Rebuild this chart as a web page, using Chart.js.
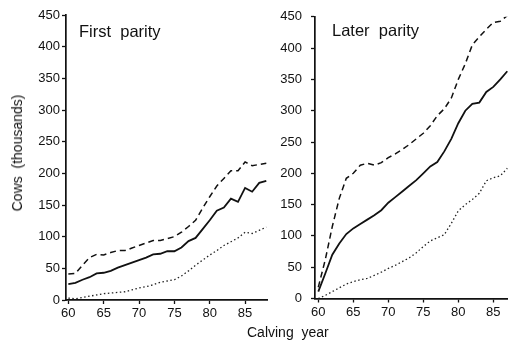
<!DOCTYPE html>
<html>
<head>
<meta charset="utf-8">
<script src="https://cdn.jsdelivr.net/npm/chart.js@4"></script>
<style>
  html, body { margin: 0; padding: 0; background: #fff; }
  body { width: 508px; height: 341px; position: relative; overflow: hidden; font-family: "Liberation Sans", Arial, sans-serif; color: #111; }
  .wrap { position: absolute; top: 0; }
  .txt { position: absolute; white-space: pre; color: #111; }
</style>
</head>
<body>
<div class="wrap" style="left:0;width:270px;height:341px;"><canvas id="c1" width="270" height="341"></canvas></div>
<div class="wrap" style="left:270px;width:238px;height:341px;"><canvas id="c2" width="238" height="341"></canvas></div>
<div class="txt" style="left:79px;top:22px;font-size:16.5px;">First  parity</div>
<div class="txt" style="left:332px;top:21px;font-size:16.5px;">Later  parity</div>
<div class="txt" style="left:247px;top:324px;font-size:14px;">Calving  year</div>
<div class="txt" style="left:17px;top:153px;font-size:14px;transform:translate(-50%,-50%) rotate(-90deg);">Cows  (thousands)</div>
<script>
// ---- data (thousands of cows) ----
const firstYears = [60,61,62,63,64,65,66,67,68,69,70,71,72,73,74,75,76,77,78,79,80,81,82,83,84,85,86,87,88];
const firstUpper = [41,42,55,67,72,71,75,78,78,82,86,90,94,94,97,100,107,116,126,145,163,180,192,204,204,218,212,214,216];
const firstMid   = [25,27,32,36,42,43,46,51,55,59,63,67,72,73,77,77,83,93,98,112,126,141,146,160,155,177,171,185,188];
const firstLower = [3,2,4,6,8,10,11,12,13,16,19,21,24,28,30,32,38,46,55,63,71,78,86,92,98,107,105,110,115];

const laterYears = [60,61,62,63,64,65,66,67,68,69,70,71,72,73,74,75,76,77,78,79,80,81,82,83,84,85,86,87];
const laterUpper = [18,62,115,160,192,200,213,216,213,217,225,231,238,246,255,264,276,292,303,320,350,375,405,418,430,441,443,452];
const laterMid   = [11,40,70,88,103,112,119,126,133,141,153,162,171,180,189,200,211,218,235,255,280,300,311,313,330,338,350,363];
const laterLower = [0,5,11,17,23,27,30,32,37,42,48,53,59,65,73,83,92,97,102,120,140,150,158,168,188,193,196,208];

const xTickValues = [60,65,70,75,80,85];
const yTickValues = [0,50,100,150,200,250,300,350,400,450];

function pts(xs, ys) { return xs.map((x, i) => ({ x: x, y: ys[i] })); }

function makeChart(id, years, upper, mid, lower, cfg) {
  const ink = '#111';
  return new Chart(document.getElementById(id), {
    type: 'line',
    data: {
      datasets: [
        { data: pts(years, upper), borderColor: ink, borderWidth: 1.5, borderDash: [6, 4], pointRadius: 0, tension: 0 },
        { data: pts(years, mid), borderColor: ink, borderWidth: 1.8, pointRadius: 0, tension: 0 },
        { data: pts(years, lower), borderColor: '#222', borderWidth: 1.3, borderDash: [1.5, 2.5], pointRadius: 0, tension: 0 }
      ]
    },
    options: {
      responsive: false,
      animation: false,
      maintainAspectRatio: false,
      layout: { padding: { left: 0, right: cfg.padRight, top: cfg.padTop, bottom: cfg.padBottom } },
      plugins: { legend: { display: false }, tooltip: { enabled: false } },
      scales: {
        x: {
          type: 'linear',
          min: cfg.xmin, max: cfg.xmax,
          afterBuildTicks: s => { s.ticks = xTickValues.map(v => ({ value: v })); },
          afterFit: s => { s.height = 30; },
          grid: { drawOnChartArea: false, drawTicks: true, tickLength: 4, tickColor: ink, tickWidth: 1.3 },
          border: { display: true, color: ink, width: 1.7 },
          ticks: { color: ink, font: { family: '"Liberation Sans", Arial, sans-serif', size: 13 }, padding: 2, maxRotation: 0, autoSkip: false }
        },
        y: {
          type: 'linear',
          min: 0, max: 450,
          afterBuildTicks: s => { s.ticks = yTickValues.map(v => ({ value: v })); },
          afterFit: s => { s.width = cfg.yWidth; },
          grid: { drawOnChartArea: false, drawTicks: true, tickLength: 4, tickColor: ink, tickWidth: 1.3 },
          border: { display: true, color: ink, width: 1.7 },
          ticks: { color: ink, font: { family: '"Liberation Sans", Arial, sans-serif', size: 13 }, padding: cfg.yPad, autoSkip: false }
        }
      }
    }
  });
}

makeChart('c1', firstYears, firstUpper, firstMid, firstLower,
  { xmin: 59.67, xmax: 88.1, yWidth: 66, yPad: 2, padRight: 3, padTop: 15, padBottom: 11 });
makeChart('c2', laterYears, laterUpper, laterMid, laterLower,
  { xmin: 59.53, xmax: 87.1, yWidth: 45, yPad: 9, padRight: 0, padTop: 16, padBottom: 12.5 });
</script>
</body>
</html>
